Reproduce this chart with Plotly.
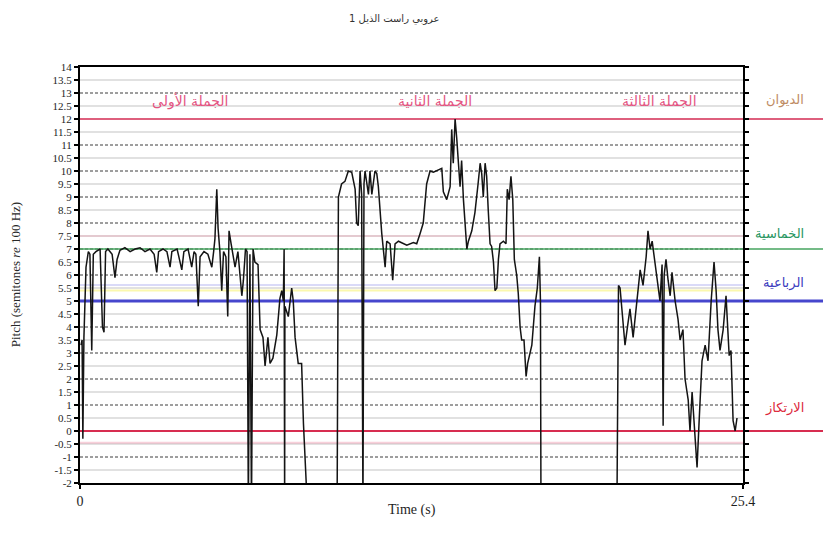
import plotly.graph_objects as go

# ---------------- data ----------------
phrase1_t = [0.04, 0.08, 0.11, 0.15, 0.23, 0.32, 0.38, 0.45, 0.51, 0.61, 0.77, 0.86, 0.92, 0.98,
             1.07, 1.23, 1.34, 1.42, 1.53, 1.72, 1.92, 2.11, 2.30, 2.49, 2.68, 2.84, 2.94, 3.01,
             3.18, 3.33, 3.45, 3.52, 3.72, 3.90, 3.98, 4.14, 4.28, 4.37, 4.44, 4.53, 4.60, 4.75,
             4.90, 5.05, 5.12, 5.17, 5.24, 5.29, 5.36, 5.43, 5.50, 5.59, 5.66, 5.71, 5.79, 5.86,
             5.94, 6.05, 6.20, 6.26, 6.34, 6.40, 6.45, 6.51, 6.57, 6.63, 6.70, 6.82, 6.90, 7.01,
             7.09, 7.20, 7.28, 7.39, 7.54, 7.66, 7.73, 7.79, 7.82, 7.84, 7.85, 7.98, 8.11, 8.17,
             8.24, 8.36, 8.49, 8.56, 8.69]
phrase1_v = [3.3, 3.5, -0.3, 3.6, 6.3, 6.9, 6.8, 3.1, 6.8, 6.9, 7.0, 4.0, 3.8, 6.9,
             7.0, 6.8, 5.9, 6.6, 6.95, 7.05, 6.9, 7.0, 7.05, 6.9, 7.0, 6.8, 6.1, 6.9,
             7.0, 6.9, 6.3, 6.9, 7.0, 6.2, 6.9, 7.0, 6.3, 6.9, 6.8, 4.8, 6.7, 6.9,
             6.8, 6.3, 6.9, 7.4, 9.3, 7.8, 6.9, 5.4, 6.9, 6.7, 4.4, 7.7, 7.2, 6.8,
             6.3, 6.9, 5.2, 5.8, 7.0, 6.9, -3.0, 6.8, -3.0, 7.0, 6.5, 6.4, 3.9, 3.6,
             2.5, 3.6, 2.6, 2.8, 3.7, 5.1, 5.4, 5.0, 7.0, -3.0, 4.8, 4.4, 5.5, 5.0,
             3.6, 2.6, 2.6, 0.3, -2.5]

phrase2_t = [9.85, 9.90, 10.02, 10.15, 10.28, 10.41, 10.54, 10.60, 10.66, 10.73, 10.79, 10.84,
             10.88, 10.92, 11.05, 11.11, 11.18, 11.24, 11.30, 11.37, 11.43, 11.56, 11.62, 11.69,
             11.75, 11.88, 11.98, 12.07, 12.20, 12.39, 12.52, 12.77, 12.90, 13.03, 13.15, 13.28,
             13.41, 13.54, 13.67, 13.86, 13.92, 14.05, 14.18, 14.24, 14.30, 14.37, 14.43, 14.49,
             14.56, 14.62, 14.69, 14.82, 14.88, 15.01, 15.13, 15.25, 15.33, 15.39, 15.45, 15.52,
             15.58, 15.64, 15.71, 15.77, 15.84, 15.90, 15.97, 16.03, 16.09, 16.22, 16.32, 16.37,
             16.44, 16.51, 16.58, 16.64, 16.73, 16.79, 16.86, 16.92, 17.01, 17.09, 17.15, 17.31,
             17.43, 17.52, 17.60, 17.64, 17.66]
phrase2_v = [-3.0, 9.0, 9.5, 9.6, 10.0, 9.95, 9.3, 8.0, 7.9, 10.0, 9.1, -3.0,
             9.5, 10.0, 9.1, 10.0, 9.1, 9.6, 10.0, 9.9, 9.4, 7.6, 7.0, 6.3,
             7.3, 7.2, 5.8, 7.2, 7.3, 7.2, 7.15, 7.25, 7.2, 7.6, 8.0, 9.5,
             10.0, 9.95, 10.0, 10.1, 9.2, 8.9, 9.4, 11.6, 10.3, 12.0, 11.3, 10.3,
             9.4, 10.4, 8.9, 7.0, 7.3, 7.7, 8.4, 9.5, 10.3, 9.9, 9.0, 10.3,
             9.8, 8.5, 7.2, 7.1, 6.5, 5.4, 5.5, 6.6, 7.2, 7.3, 7.2, 9.3,
             8.9, 9.8, 8.9, 6.6, 6.0, 5.3, 4.0, 3.5, 3.5, 2.1, 2.6, 3.3,
             4.8, 5.5, 6.7, 5.0, -3.0]

phrase3_t = [20.57, 20.63, 20.69, 20.77, 20.88, 21.00, 21.07, 21.19, 21.26, 21.34, 21.46, 21.57,
             21.69, 21.76, 21.84, 21.92, 22.03, 22.11, 22.22, 22.30, 22.34, 22.38, 22.45, 22.53,
             22.61, 22.68, 22.80, 22.91, 22.99, 23.10, 23.18, 23.30, 23.37, 23.45, 23.56, 23.64,
             23.72, 23.83, 23.95, 24.06, 24.18, 24.29, 24.37, 24.44, 24.52, 24.64, 24.75, 24.87,
             24.94, 25.02, 25.10, 25.17]
phrase3_v = [-3.0, 5.6, 5.5, 4.5, 3.3, 4.2, 4.7, 3.6, 4.3, 5.0, 6.2, 5.6,
             6.7, 7.7, 7.0, 7.3, 6.5, 5.8, 5.0, 6.4, 0.2, 6.0, 6.6, 5.8,
             5.2, 6.1, 5.0, 4.3, 3.5, 3.9, 2.0, 1.2, 0.0, 1.5, -0.4, -1.4,
             0.4, 2.7, 3.3, 2.7, 5.0, 6.5, 5.4, 3.9, 3.1, 3.9, 5.2, 2.9,
             3.1, 0.4, 0.0, 0.5]

y_ticks = [14, 13.5, 13, 12.5, 12, 11.5, 11, 10.5, 10, 9.5, 9, 8.5, 8, 7.5, 7, 6.5, 6,
           5.5, 5, 4.5, 4, 3.5, 3, 2.5, 2, 1.5, 1, 0.5, 0, -0.5, -1, -1.5, -2]
y_ticktext = ["14", "13.5", "13", "12.5", "12", "11.5", "11", "10.5", "10", "9.5", "9", "8.5",
              "8", "7.5", "7", "6.5", "6", "5.5", "5", "4.5", "4", "3.5", "3", "2.5", "2", "1.5",
              "1", "0.5", "0", "-0.5", "-1", "-1.5", "-2"]
x_ticks = [0, 25.4]
x_ticktext = ["0", "25.4"]

ref_names = ["الديوان", "الخماسية", "الرباعية", "الارتكاز"]
ref_values = [12, 7, 5, 0]
ref_line_colors = ["rgb(222,95,125)", "rgb(70,165,95)", "rgb(70,70,205)", "rgb(215,45,80)"]
ref_line_widths = [2, 1.5, 3, 2]
ref_text_colors = ["rgb(190,140,100)", "rgb(40,150,95)", "rgb(60,60,190)", "rgb(220,40,60)"]
ref_label_y = [12.75, 7.6, 5.7, 0.9]

phrase_names = ["الجملة الأولى", "الجملة الثانية", "الجملة الثالثة"]
phrase_label_t = [4.2, 13.6, 22.2]
phrase_label_v = 12.7

faint_values = [-0.45, 5.4, 5.62, 7.5]
faint_colors = ["rgba(235,120,150,0.35)", "rgba(250,245,140,0.7)", "rgba(150,150,235,0.35)",
                "rgba(235,150,170,0.3)"]

title_text = "عروبي راست الذيل 1"

# ---------------- figure ----------------
t_all = phrase1_t + [None] + phrase2_t + [None] + phrase3_t
v_all = phrase1_v + [None] + phrase2_v + [None] + phrase3_v

fig = go.Figure()
fig.add_trace(go.Scatter(x=t_all, y=v_all, mode="lines", connectgaps=False,
                         line=dict(color="rgb(20,20,20)", width=1.5), showlegend=False,
                         hoverinfo="skip"))

shapes = []
for val in y_ticks:
    if val in (14, -2):
        continue
    if float(val).is_integer():
        shapes.append(dict(type="line", xref="paper", x0=0, x1=1, yref="y", y0=val, y1=val,
                           line=dict(color="rgb(60,60,60)", width=1, dash="3px,2px"), layer="below"))
    else:
        shapes.append(dict(type="line", xref="paper", x0=0, x1=1, yref="y", y0=val, y1=val,
                           line=dict(color="rgb(195,195,195)", width=1), layer="below"))
for val, col in zip(faint_values, faint_colors):
    shapes.append(dict(type="line", xref="paper", x0=0, x1=1, yref="y", y0=val, y1=val,
                       line=dict(color=col, width=2), layer="below"))
for val, col, w in zip(ref_values, ref_line_colors, ref_line_widths):
    shapes.append(dict(type="line", xref="paper", x0=0, x1=1.125, yref="y", y0=val, y1=val,
                       line=dict(color=col, width=w), layer="below"))

annotations = []
for name, col, yy in zip(ref_names, ref_text_colors, ref_label_y):
    annotations.append(dict(text=name, xref="paper", x=1.095, yref="y", y=yy, showarrow=False,
                            font=dict(family="DejaVu Sans", size=13, color=col)))
for name, tt in zip(phrase_names, phrase_label_t):
    annotations.append(dict(text=name, xref="x", x=tt, yref="y", y=phrase_label_v, showarrow=False,
                            font=dict(family="DejaVu Sans", size=14, color="rgb(228,85,130)")))
annotations.append(dict(text=title_text, xref="paper", x=0.475, yref="paper", y=1.135,
                        showarrow=False, font=dict(family="DejaVu Sans", size=10, color="rgb(50,50,50)")))
annotations.append(dict(text="Pitch (semitones <i>re</i> 100 Hz)", xref="paper", x=-0.112,
                        yref="paper", y=0.5, textangle=-90, showarrow=False,
                        font=dict(family="Liberation Serif", size=13, color="rgb(40,40,40)")))
annotations.append(dict(text="Time (s)", xref="paper", x=0.5, yref="paper", y=-0.089,
                        showarrow=False,
                        font=dict(family="Liberation Serif", size=14, color="rgb(30,30,30)")))

fig.update_layout(
    width=823, height=533,
    margin=dict(l=80, r=80, t=67, b=50),
    paper_bgcolor="white", plot_bgcolor="white",
    shapes=shapes, annotations=annotations, showlegend=False,
    xaxis=dict(range=[0, 25.4], tickvals=x_ticks, ticktext=x_ticktext, showgrid=False,
               zeroline=False, showline=True, linecolor="black", linewidth=2, mirror=True,
               ticks="outside", ticklen=4, tickwidth=1.5, tickcolor="black",
               tickfont=dict(family="Liberation Serif", size=14, color="rgb(30,30,30)")),
    yaxis=dict(range=[-2, 14], tickvals=y_ticks, ticktext=y_ticktext, showgrid=False,
               zeroline=False, showline=True, linecolor="black", linewidth=2, mirror="ticks",
               ticks="outside", ticklen=4, tickwidth=1.5, tickcolor="black",
               tickfont=dict(family="Liberation Serif", size=11, color="rgb(30,30,30)")),
)

fig.write_html("out.html")
